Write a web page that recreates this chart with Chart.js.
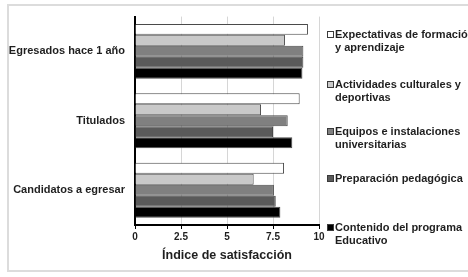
<!DOCTYPE html>
<html>
<head>
<meta charset="utf-8">
<script src="https://cdn.jsdelivr.net/npm/chart.js@4/dist/chart.umd.min.js"></script>
<style>
  html, body { margin: 0; padding: 0; background: #fff; }
  #wrap { position: relative; width: 468px; height: 277px; overflow: hidden; }
  #frame { position: absolute; left: 7px; top: 4px; width: 480px; height: 268px; border: 2px solid #dcdcdc; box-sizing: border-box; }
  canvas { position: absolute; left: 0; top: 0; }
  .lg { position: absolute; left: 327px; font-family: "Liberation Sans", Arial, sans-serif; font-weight: bold; font-size: 11px; line-height: 13px; color: #1f1f1f; white-space: nowrap; }
  .lg .mk { position: absolute; left: 0; top: 3px; width: 5px; height: 5px; border: 1px solid #3a3a3a; }
  .lg .tx { position: absolute; left: 8px; top: 0; }
</style>
</head>
<body>
<div id="wrap">
  <div id="frame"></div>
  <canvas id="c" width="468" height="277"></canvas>
  <div id="legend"></div>
</div>
<script>
const categories = ["Egresados hace 1 año", "Titulados", "Candidatos a egresar"];
const seriesNames = [
  ["Expectativas de formación", "y aprendizaje"],
  ["Actividades culturales y", "deportivas"],
  ["Equipos e instalaciones", "universitarias"],
  ["Preparación pedagógica"],
  ["Contenido del programa", "Educativo"]
];
const expectativas = [9.4, 8.95, 8.1];
const actividades  = [8.15, 6.85, 6.45];
const equipos      = [9.15, 8.3, 7.55];
const preparacion  = [9.15, 7.5, 7.65];
const contenido    = [9.1, 8.55, 7.9];
const xTicks = [0, 2.5, 5, 7.5, 10];

const seriesValues = [expectativas, actividades, equipos, preparacion, contenido];
const colors = ["#ffffff", "#c9c9c9", "#808080", "#5a5a5a", "#000000"];
const legendTops = [28, 78, 125, 172, 221];

const textColor = "#1f1f1f";
const fontFamily = '"Liberation Sans", Arial, sans-serif';

new Chart(document.getElementById("c"), {
  type: "bar",
  data: {
    labels: categories,
    datasets: seriesValues.map((v, i) => ({
      label: seriesNames[i].join(" "),
      data: v,
      backgroundColor: colors[i],
      borderColor: "#4a4a4a",
      borderWidth: 1,
      categoryPercentage: 0.79,
      barPercentage: 1
    }))
  },
  options: {
    indexAxis: "y",
    responsive: false,
    animation: false,
    layout: { padding: { left: 8, right: 149, top: 15, bottom: 0 } },
    plugins: { legend: { display: false }, tooltip: { enabled: false } },
    scales: {
      x: {
        min: 0, max: 10,
        afterBuildTicks: (s) => { s.ticks = xTicks.map(v => ({ value: v })); },
        grid: { color: "#d6d6d6", lineWidth: 1, tickColor: "#000", tickLength: 4, drawTicks: true },
        border: { color: "#000", width: 2 },
        ticks: { color: textColor, font: { family: fontFamily, size: 10, weight: "bold" }, padding: 2, maxRotation: 0 },
        title: { display: true, text: "Índice de satisfacción", color: textColor, font: { family: fontFamily, size: 12.5, weight: "bold" }, padding: { top: 3, bottom: 14 } }
      },
      y: {
        grid: { display: false, drawTicks: false },
        border: { color: "#000", width: 2 },
        ticks: { color: textColor, font: { family: fontFamily, size: 11, weight: "bold" }, padding: 10 },
        afterFit: (s) => { s.width = 127; }
      }
    }
  }
});

const lg = document.getElementById("legend");
seriesNames.forEach((lines, i) => {
  const d = document.createElement("div");
  d.className = "lg";
  d.style.top = legendTops[i] + "px";
  const mk = document.createElement("div");
  mk.className = "mk";
  mk.style.background = colors[i];
  const tx = document.createElement("div");
  tx.className = "tx";
  tx.innerHTML = lines.join("<br>");
  d.appendChild(mk); d.appendChild(tx);
  lg.appendChild(d);
});
</script>
</body>
</html>
